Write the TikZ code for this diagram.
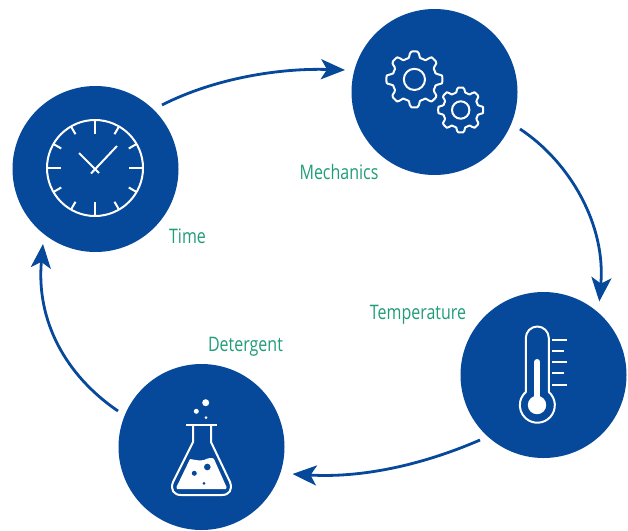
\documentclass[tikz,border=0pt]{standalone}
\usepackage{fontspec}
\setmainfont{Open Sans}
\usetikzlibrary{arrows.meta,calc}
\definecolor{navy}{HTML}{06489A}
\definecolor{labelgreen}{HTML}{1F9C78}
\newcommand{\gearpath}[4]{% cx cy outer inner
  \draw[iconline,line join=round] plot[smooth cycle,tension=0.5,domain=0:356,samples=90,variable=\t]
    ({#1+(#4+(#3-#4)*min(1,max(0,0.5+1.1*cos(8*\t))))*cos(\t)},
     {#2+(#4+(#3-#4)*min(1,max(0,0.5+1.1*cos(8*\t))))*sin(\t)});
}
\tikzset{
  disc/.style={circle,fill=navy,draw=none,minimum size=166pt,inner sep=0pt},
  tag/.style={text=labelgreen,font=\fontsize{20pt}{22pt}\selectfont,inner sep=0pt,anchor=base,xscale=0.8,transform shape},
  flow/.style={draw=navy,line width=2.8pt,-{Stealth[length=24pt,width=20pt,inset=6pt]}},
  iconline/.style={draw=white,line width=2pt},
  iconthin/.style={draw=white,line width=2pt},
}
\begin{document}
\begin{tikzpicture}[x=1pt,y=-1pt]
\useasboundingbox (0,0) rectangle (628,530);
\node[disc] (time) at (95.5,169) {};
\node[disc] (mech) at (434.5,92) {};
\node[disc] (temp) at (543.5,375) {};
\node[disc] (det) at (201.5,447) {};
\coordinate (a1s) at (162,105);
\coordinate (a1e) at (345,70);
\coordinate (a2s) at (520,129);
\coordinate (a2e) at (599.3,301.5);
\coordinate (a3s) at (480,440);
\coordinate (a3e) at (292.5,474);
\coordinate (a4s) at (118,411);
\coordinate (a4e) at (43,244);
\draw[flow] (a1s) .. controls (215,78) and (280,68) .. (a1e);
\draw[flow] (a2s) .. controls (570,162) and (606,225) .. (a2e);
\draw[flow] (a3s) .. controls (420,466) and (360,478) .. (a3e);
\draw[flow] (a4s) .. controls (65,375) and (36,320) .. (a4e);
\node[tag] (l1) at (187.5,243) {Time};
\node[tag] (l2) at (339,179) {Mechanics};
\node[tag] (l3) at (418,319) {Temperature};
\node[tag] (l4) at (245.5,351) {Detergent};
% clock
\draw[iconline] (95,168) circle (48);
\foreach \a/\l in {0/14,30/9,60/9,90/14,120/9,150/9,180/14,210/9,240/9,270/14,300/9,330/9}
  \draw[iconline] ($(95,168)+(\a:48)$) -- ($(95,168)+(\a:48-\l)$);
\draw[iconline] (79,153) -- (99,173) (117,146) -- (91,173.5);
% gears
\gearpath{414.4}{79.4}{28}{22}
\draw[iconline] (414.4,79.4) circle (10.6);
\gearpath{460.7}{110}{22.5}{17.8}
\draw[iconline] (460.7,110) circle (8.7);
% thermometer
\draw[iconline,line join=round] (525.8,392) -- (525.8,338) arc[start angle=180,end angle=360,radius=11.5] -- (548.8,392)
  arc[start angle=-49,end angle=229,radius=17.5] -- cycle;
\fill[white] (537,405) circle (9.2);
\draw[white,line width=6pt,line cap=round] (537.3,403) -- (537.3,362);
\foreach \y/\x in {340/567.3,351/564,362.3/567.3,373.3/564,384.7/567.3}
  \draw[iconthin] (552.3,\y) -- (\x,\y);
% flask
\draw[white,line width=2.2pt] (186,425) -- (217,425);
\draw[iconline,line join=round] (193,425) -- (193,442) -- (173,482) .. controls (170,490) and (174,495) .. (181,495)
  -- (222,495) .. controls (229,495) and (233,490) .. (230,482) -- (211,442) -- (211,425);
\fill[white] (190,459) .. controls (196,460) and (200,461) .. (204,460) .. controls (208,458) and (212,457) .. (214,459)
  -- (226.5,487) -- (226,489) -- (177,489) -- (176.5,487) -- cycle;
\fill[navy] (194.3,473.3) circle (2.5) (207.3,467) circle (3.3) (204,483.3) circle (1.5);
\fill[white] (205.7,402.7) circle (3.5) (196.3,411.3) circle (2.5) (206,417.7) circle (1.5);
\end{tikzpicture}
\end{document}
